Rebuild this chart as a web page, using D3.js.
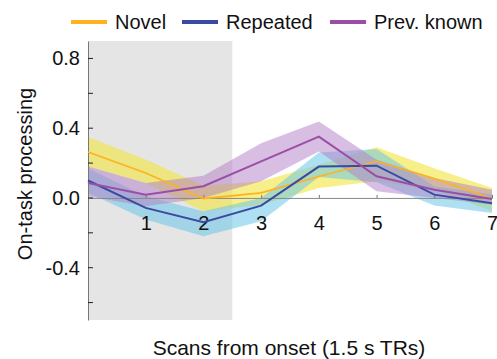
<!DOCTYPE html>
<meta charset="utf-8">
<head>
<script src="https://d3js.org/d3.v7.min.js"></script>
<style>
  body { margin: 0; background: #fff; font-family: "Liberation Sans", Arial, sans-serif; }
</style>
</head>
<body>
<div id="my_dataviz"></div>
<script>

// scans from onset
var scans = [0, 1, 2, 3, 4, 5, 6, 7];
var xTicks = [1, 2, 3, 4, 5, 6, 7];
var yTicks = [-0.4, 0.0, 0.4, 0.8];
var yMinor = [-0.6, -0.2, 0.2, 0.6];

// mean and band (upper / lower) per condition
var novelMean  = [0.263, 0.143, -0.004, 0.029, 0.123, 0.210, 0.112, -0.006];
var novelUp    = [0.349, 0.220, 0.070, 0.095, 0.190, 0.290, 0.170, 0.057];
var novelLo    = [0.180, 0.086, -0.077, -0.040, 0.057, 0.095, 0.047, -0.077];

var repMean    = [0.100, -0.057, -0.139, -0.044, 0.180, 0.185, 0.019, -0.030];
var repUp      = [0.170, 0.010, -0.077, 0.000, 0.260, 0.280, 0.067, 0.019];
var repLo      = [0.030, -0.124, -0.220, -0.133, 0.120, 0.090, -0.044, -0.086];

var prevMean   = [0.086, 0.019, 0.067, 0.210, 0.352, 0.124, 0.047, -0.006];
var prevUp     = [0.180, 0.086, 0.127, 0.314, 0.438, 0.219, 0.114, 0.047];
var prevLo     = [0.010, -0.048, 0.000, 0.095, 0.266, 0.038, 0.000, -0.038];

var seriesNames = ["Novel", "Repeated", "Prev. known"];

var series = [
  {name: "Novel", mean: novelMean, up: novelUp, lo: novelLo, line: "#ffb21f", band: "#f2e43a", op: 0.6, lw: 1.6},
  {name: "Repeated", mean: repMean, up: repUp, lo: repLo, line: "#3a4aa3", band: "#6cc6ea", op: 0.55, lw: 2},
  {name: "Prev. known", mean: prevMean, up: prevUp, lo: prevLo, line: "#9a4ea6", band: "#b27dc6", op: 0.5, lw: 2}
];

var W = 497, H = 359;
var margin = {top: 41, right: 5, bottom: 39, left: 88};
var width = W - margin.left - margin.right,
    height = H - margin.top - margin.bottom;

var svg = d3.select("#my_dataviz")
  .append("svg")
    .attr("width", W)
    .attr("height", H)
  .append("g")
    .attr("transform", "translate(" + margin.left + "," + margin.top + ")");

var x = d3.scaleLinear().domain([0, 7]).range([0, width]);
var y = d3.scaleLinear().domain([-0.7, 0.9]).range([height, 0]);

// shaded window
svg.append("rect")
  .attr("x", x(0))
  .attr("y", 0)
  .attr("width", x(2.5) - x(0))
  .attr("height", height)
  .style("fill", "#e5e5e5");

// bands
series.forEach(function(s) {
  var area = d3.area()
    .x(function(d, i) { return x(scans[i]) })
    .y0(function(d, i) { return y(s.lo[i]) })
    .y1(function(d, i) { return y(s.up[i]) });
  svg.append("path")
    .datum(s.mean)
    .attr("d", area)
    .style("fill", s.band)
    .style("opacity", s.op);
});

// x axis at zero
var xAxis = svg.append("g")
  .attr("transform", "translate(0," + y(0) + ")")
  .call(d3.axisBottom(x).tickValues(xTicks).tickSize(-3).tickPadding(18).tickFormat(d3.format("d")));
xAxis.select(".domain").attr("stroke", "#8a8a8a");
xAxis.selectAll(".tick line").attr("stroke", "#777");
xAxis.selectAll("text").style("font-size", "20px").style("fill", "#111");

// y axis
var yAxis = svg.append("g")
  .call(d3.axisLeft(y).tickValues(yTicks).tickSize(0).tickPadding(8)
    .tickFormat(function(d) { return d.toFixed(1) }));
yAxis.select(".domain").attr("stroke", "#777");
yAxis.selectAll("text").style("font-size", "20px").style("fill", "#111");
svg.selectAll(".ytick")
  .data(yTicks.concat(yMinor))
  .enter().append("line")
    .attr("x1", 0).attr("x2", 5)
    .attr("y1", function(d) { return y(d) })
    .attr("y2", function(d) { return y(d) })
    .attr("stroke", "#222");

// mean lines
series.forEach(function(s) {
  svg.append("path")
    .datum(s.mean)
    .attr("d", d3.line()
      .x(function(d, i) { return x(scans[i]) })
      .y(function(d) { return y(d) }))
    .attr("stroke", s.line)
    .style("stroke-width", s.lw)
    .style("fill", "none");
});

// axis labels
svg.append("text")
  .attr("x", 289 - margin.left)
  .attr("y", 355 - margin.top)
  .style("text-anchor", "middle")
  .style("font-size", "21px")
  .style("fill", "#111")
  .text("Scans from onset (1.5 s TRs)");

svg.append("text")
  .attr("transform", "rotate(-90)")
  .attr("x", -(174 - margin.top))
  .attr("y", 32 - margin.left)
  .style("text-anchor", "middle")
  .style("font-size", "20px")
  .style("fill", "#111")
  .text("On-task processing");

// legend
var legendX = [71, 182, 330];
var legend = d3.select("svg").append("g");
series.forEach(function(s, i) {
  legend.append("line")
    .attr("x1", legendX[i]).attr("x2", legendX[i] + 36)
    .attr("y1", 22).attr("y2", 22)
    .attr("stroke", s.line)
    .style("stroke-width", 4);
  legend.append("text")
    .attr("x", legendX[i] + 44)
    .attr("y", 28.5)
    .style("font-size", "20px")
    .style("fill", "#111")
    .text(seriesNames[i]);
});

</script>
</body>
